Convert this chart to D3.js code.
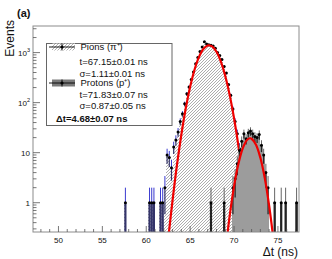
<!DOCTYPE html>
<meta charset="utf-8">
<style>
  body { margin: 0; background: #fff; }
  text { font-family: "Liberation Sans", Arial, sans-serif; fill: #111; }
</style>
<body>
<div id="chart"></div>
<script src="https://d3js.org/d3.v7.min.js"></script>
<script>

var width = 332,
    height = 259;

// frame of the pad
var x0 = 33, x1 = 299, y0 = 26, y1 = 232;

var binWidth = 0.25;

// pion histogram (bin centres in ns, counts)
var pionT = [57.625, 60.375, 60.625, 60.875, 61.625, 61.875, 62.125,
  62.375, 62.625, 62.875, 63.125, 63.375, 63.625, 63.875, 64.125, 64.375, 64.625,
  64.875, 65.125, 65.375, 65.625, 65.875, 66.125, 66.375, 66.625, 66.875, 67.125,
  67.375, 67.625, 67.875, 68.125, 68.375, 68.625, 68.875, 69.125, 69.375, 69.625,
  69.875, 70.125, 70.375, 70.625, 70.875, 71.125, 71.375];
var pionN = [1, 1, 1, 1, 1, 1, 2,
  9, 8, 5, 13, 18, 26, 42, 60, 95, 150,
  205, 290, 410, 600, 800, 1050, 1300, 1650, 1480, 1430,
  1400, 1350, 1220, 1000, 870, 730, 530, 390, 230, 140,
  75, 42, 24, 12, 6, 3, 1];

// proton histogram
var protonT = [67.375, 68.875, 69.875, 70.125, 70.375, 70.625, 70.875, 71.125,
  71.375, 71.625, 71.875, 72.125, 72.375, 72.625, 72.875, 73.125, 73.375, 73.625,
  73.875, 74.625, 75.375, 75.875, 77.125];
var protonN = [1, 1, 2, 3, 6, 11, 17, 24,
  19, 25, 27, 24, 21, 20, 23, 14, 9, 4,
  2, 1, 1, 1, 1];

// fitted curves, points
var pionFitT = [62.5, 63.0, 63.5, 64.0, 64.5, 65.0, 65.5, 66.0, 66.5, 67.0, 67.15,
  67.5, 68.0, 68.5, 69.0, 69.5, 70.0, 70.5, 71.0, 71.5, 71.8];
var pionFitN = [0.19, 1.13, 5.7, 23, 77, 207, 455, 810, 1176, 1387, 1400,
  1331, 1039, 659, 340, 143, 49, 13.6, 3.1, 0.56, 0.17];

var protonFitT = [69.2, 69.5, 70.0, 70.5, 71.0, 71.5, 71.83, 72.0, 72.5, 73.0, 73.5, 74.0, 74.45];
var protonFitN = [0.2, 0.54, 2.12, 6.0, 12.3, 18.1, 19.4, 19.0, 14.4, 7.9, 3.1, 0.87, 0.21];

var xTickLabels = [50, 55, 60, 65, 70, 75];
var yTickLabels = [1, 10, 100, 1000];

var legendRows = [
  {text: "Pions (\u03c0\u207a)", bold: false},
  {text: "t=67.15\u00b10.01 ns", bold: false},
  {text: "\u03c3=1.11\u00b10.01 ns", bold: false},
  {text: "Protons (p\u207a)", bold: false},
  {text: "t=71.83\u00b10.07 ns", bold: false},
  {text: "\u03c3=0.87\u00b10.05 ns", bold: false},
  {text: "\u0394t=4.68\u00b10.07 ns", bold: true}
];

var x = d3.scaleLinear().domain([47.1, 77.4]).range([x0, x1]);
var y = d3.scaleLog().domain([0.26, 3400]).range([y1, y0]);

function yc(v) { return v <= 0.26 ? y1 : y(v); }

var svg = d3.select("#chart").append("svg")
    .attr("width", width)
    .attr("height", height);

var defs = svg.append("defs");
defs.append("clipPath").attr("id", "clip")
  .append("rect").attr("x", x0).attr("y", y0).attr("width", x1 - x0).attr("height", y1 - y0);

var hatch = defs.append("pattern")
    .attr("id", "hatch")
    .attr("patternUnits", "userSpaceOnUse")
    .attr("width", 3).attr("height", 3);
hatch.append("rect").attr("width", 3).attr("height", 3).attr("fill", "#fff");
hatch.append("path")
    .attr("d", "M-1,1 l2,-2 M0,3 l3,-3 M2,4 l2,-2")
    .attr("stroke", "#8a8a8a")
    .attr("stroke-width", 0.7);

var plot = svg.append("g").attr("clip-path", "url(#clip)");

var pion = pionT.map(function(t, i) { return {t: t, n: pionN[i]}; });
var proton = protonT.map(function(t, i) { return {t: t, n: protonN[i]}; });

function bars(g, data, fill) {
  g.selectAll("rect.bin")
    .data(data)
    .enter().append("rect")
      .attr("class", "bin")
      .attr("x", function(d) { return x(d.t - binWidth / 2); })
      .attr("width", function(d) { return x(d.t + binWidth / 2) - x(d.t - binWidth / 2); })
      .attr("y", function(d) { return y(d.n); })
      .attr("height", function(d) { return y1 - y(d.n); })
      .attr("fill", fill)
      .attr("shape-rendering", "crispEdges");
}

function errors(g, data, upColor, lowColor) {
  // upper half: thin
  g.selectAll("line.up")
    .data(data)
    .enter().append("line")
      .attr("class", "up")
      .attr("x1", function(d) { return x(d.t); })
      .attr("x2", function(d) { return x(d.t); })
      .attr("y1", function(d) { return y(d.n); })
      .attr("y2", function(d) { return y(d.n + Math.sqrt(d.n)); })
      .attr("stroke", upColor)
      .attr("stroke-width", 1);
  // lower half: heavier
  g.selectAll("line.low")
    .data(data)
    .enter().append("line")
      .attr("class", "low")
      .attr("x1", function(d) { return x(d.t); })
      .attr("x2", function(d) { return x(d.t); })
      .attr("y1", function(d) { return yc(d.n - Math.sqrt(d.n)); })
      .attr("y2", function(d) { return y(d.n); })
      .attr("stroke", lowColor)
      .attr("stroke-width", function(d) { return d.n <= 1 ? 2.2 : 1.2; });
  g.selectAll("circle.mk")
    .data(data)
    .enter().append("circle")
      .attr("class", "mk")
      .attr("cx", function(d) { return x(d.t); })
      .attr("cy", function(d) { return y(d.n); })
      .attr("r", 1.5)
      .attr("fill", "#000");
}

var fitLine = d3.line()
    .x(function(d) { return x(d.t); })
    .y(function(d) { return y(d.n); })
    .curve(d3.curveCatmullRom);

var pionFit = pionFitT.map(function(t, i) { return {t: t, n: pionFitN[i]}; });
var protonFit = protonFitT.map(function(t, i) { return {t: t, n: protonFitN[i]}; });

// pions
var gp = plot.append("g");
bars(gp, pion, "url(#hatch)");
errors(gp, pion, "#3a3acf", "#34346a");
plot.append("path").datum(pionFit)
    .attr("d", fitLine)
    .attr("fill", "none")
    .attr("stroke", "#ee0000")
    .attr("stroke-width", 2.2);

// protons
var gq = plot.append("g");
bars(gq, proton, "#9c9c9c");
errors(gq, proton, "#666", "#222");
plot.append("path").datum(protonFit)
    .attr("d", fitLine)
    .attr("fill", "none")
    .attr("stroke", "#ee0000")
    .attr("stroke-width", 2.2);

// frame
svg.append("rect")
    .attr("x", x0).attr("y", y0)
    .attr("width", x1 - x0).attr("height", y1 - y0)
    .attr("fill", "none")
    .attr("stroke", "#8c8c8c")
    .attr("stroke-width", 1);

// x ticks (pointing inward)
var xt = svg.append("g").attr("stroke", "#555").attr("stroke-width", 0.8);
x.ticks(30).forEach(function(v) {
  if (v < 47.1 || v > 77.4) return;
  var major = v % 5 === 0;
  xt.append("line")
    .attr("x1", x(v)).attr("x2", x(v))
    .attr("y1", y1).attr("y2", y1 - (major ? 6 : 3));
});
svg.append("g").selectAll("text")
  .data(xTickLabels)
  .enter().append("text")
    .attr("x", function(d) { return x(d); })
    .attr("y", 243)
    .attr("text-anchor", "middle")
    .attr("font-size", 8)
    .text(function(d) { return d; });

// y ticks
var yt = svg.append("g").attr("stroke", "#555").attr("stroke-width", 0.8);
y.ticks().forEach(function(v) {
  var lg = Math.log10(v);
  var major = Math.abs(lg - Math.round(lg)) < 1e-6;
  yt.append("line")
    .attr("x1", x0).attr("x2", x0 + (major ? 7 : 3.5))
    .attr("y1", y(v)).attr("y2", y(v));
});
var ylab = svg.append("g").selectAll("text")
  .data(yTickLabels)
  .enter().append("text")
    .attr("x", 30)
    .attr("y", function(d) { return y(d) + 3; })
    .attr("text-anchor", "end")
    .attr("font-size", 8);
ylab.each(function(d) {
  var t = d3.select(this);
  var p = Math.round(Math.log10(d));
  if (p <= 1) { t.text(d); return; }
  t.append("tspan").text("10");
  t.append("tspan").attr("dy", -3.5).attr("font-size", 5.5).text(p);
});

// axis titles
svg.append("text")
    .attr("transform", "translate(13.5,20) rotate(-90)")
    .attr("text-anchor", "end")
    .attr("font-size", 12)
    .text("Events");
svg.append("text")
    .attr("x", 298).attr("y", 256)
    .attr("text-anchor", "end")
    .attr("font-size", 12)
    .text("\u0394t (ns)");
svg.append("text")
    .attr("x", 17).attr("y", 17)
    .attr("font-size", 11)
    .attr("font-weight", "bold")
    .text("(a)");

// legend
var lg = svg.append("g");
lg.append("rect")
    .attr("x", 46.5).attr("y", 43.5)
    .attr("width", 125.5).attr("height", 82)
    .attr("fill", "#fff")
    .attr("stroke", "#666")
    .attr("stroke-width", 1);

var rowY = [50, 65, 76.5, 86, 97.5, 109, 121.5];
var rowX = [80.5, 79.5, 79.5, 80.5, 79.5, 79.5, 56];
lg.selectAll("text.row")
  .data(legendRows)
  .enter().append("text")
    .attr("class", "row")
    .attr("x", function(d, i) { return rowX[i]; })
    .attr("y", function(d, i) { return rowY[i]; })
    .attr("font-size", 9.5)
    .attr("font-weight", function(d) { return d.bold ? "bold" : "normal"; })
    .text(function(d) { return d.text; });

function legendSymbol(cy, fill) {
  lg.append("rect")
    .attr("x", 52).attr("y", cy - 3.5).attr("width", 23).attr("height", 7)
    .attr("fill", fill);
  lg.append("line")
    .attr("x1", 49).attr("x2", 75).attr("y1", cy).attr("y2", cy)
    .attr("stroke", "#000").attr("stroke-width", 0.9);
  lg.append("line")
    .attr("x1", 62).attr("x2", 62).attr("y1", cy - 3.5).attr("y2", cy + 3.5)
    .attr("stroke", "#000").attr("stroke-width", 0.9);
  lg.append("circle").attr("cx", 62).attr("cy", cy).attr("r", 1.6).attr("fill", "#000");
}
legendSymbol(47, "url(#hatch)");
legendSymbol(83, "#7a7a7a");

</script>
</body>
